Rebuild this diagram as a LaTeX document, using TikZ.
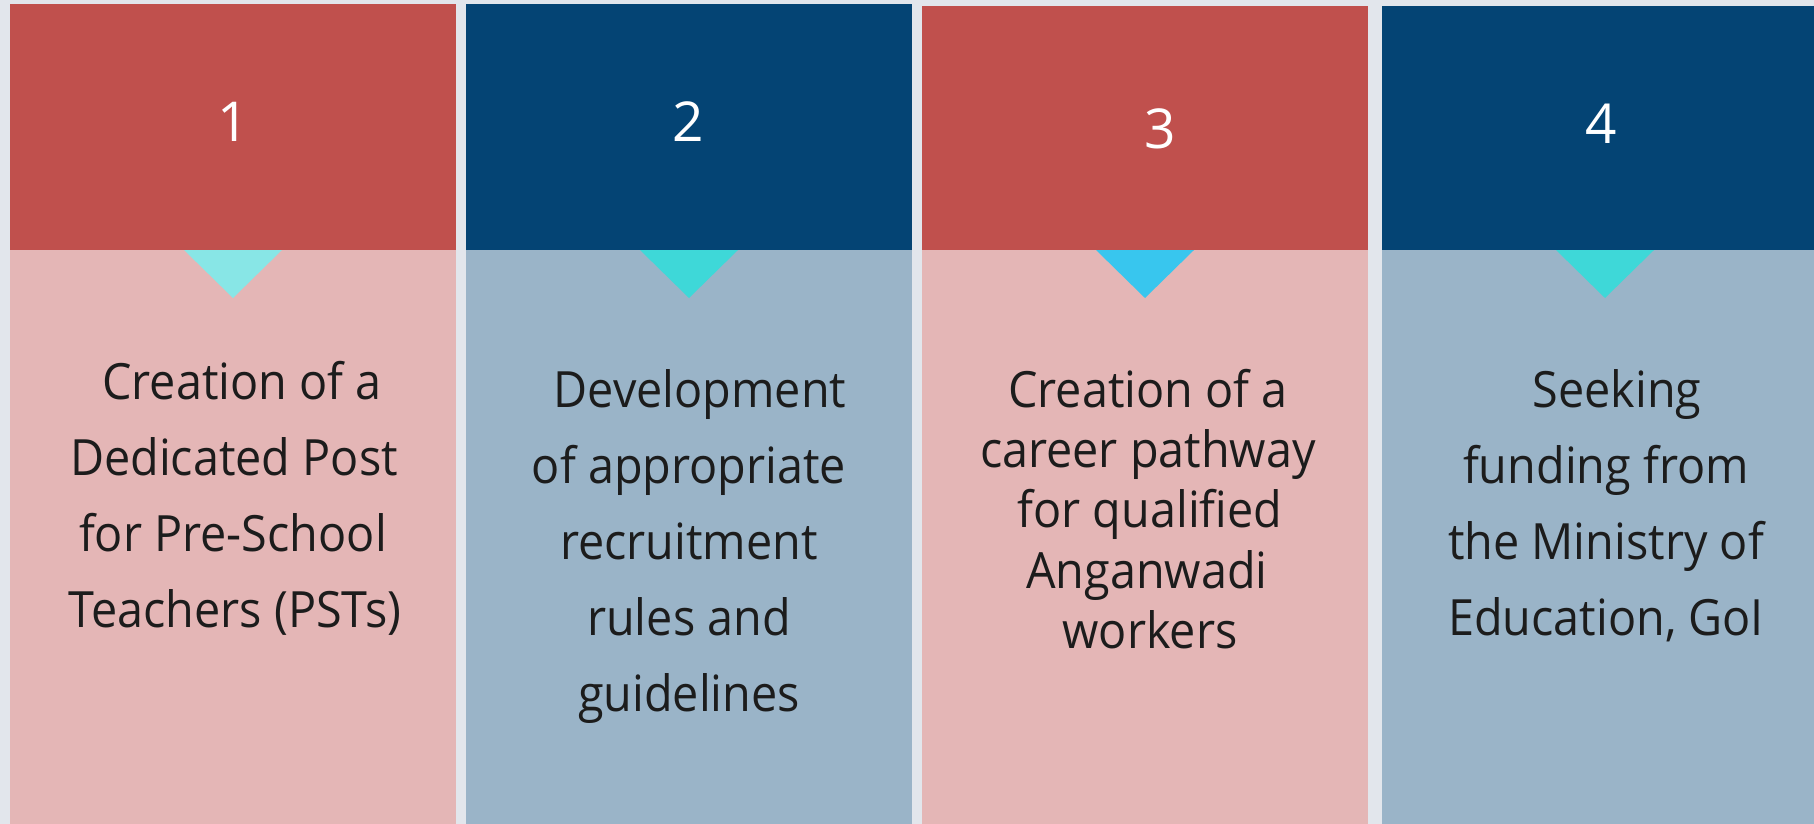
\documentclass[tikz,border=0pt]{standalone}
\usepackage{fontspec}
\setmainfont{Open Sans}
\newfontfamily\bodyfont{Open Sans}[FakeStretch=0.935]
\definecolor{bgc}{HTML}{E2E6EC}
\definecolor{redh}{HTML}{C0504D}
\definecolor{blueh}{HTML}{044474}
\definecolor{pinkb}{HTML}{E4B6B6}
\definecolor{blueb}{HTML}{9AB4C8}
\definecolor{triA}{HTML}{88E6E6}
\definecolor{triB}{HTML}{3ED8D8}
\definecolor{triC}{HTML}{38C6EE}
\definecolor{txt}{HTML}{1C1C1C}
\tikzset{
  numlbl/.style={anchor=base, inner sep=0pt, text=white, font=\fontsize{55}{60}\selectfont},
  bodylbl/.style={anchor=base, inner sep=0pt, text=txt, font=\bodyfont\fontsize{50}{60}\selectfont},
}
\begin{document}
\begin{tikzpicture}[x=1pt,y=-1pt]
\useasboundingbox (0,0) rectangle (1814,824);
\fill[bgc] (0,0) rectangle (1814,824);
% column 1
\fill[pinkb] (10,250) rectangle (456,824);
\fill[redh] (10,4) rectangle (456,250);
\fill[triA] (184,250) -- (282,250) -- (233,298) -- cycle;
% column 2
\fill[blueb] (466,250) rectangle (912,824);
\fill[blueh] (466,4) rectangle (912,250);
\fill[triB] (640,250) -- (738,250) -- (689,298) -- cycle;
% column 3
\fill[pinkb] (922,250) rectangle (1368,824);
\fill[redh] (922,6) rectangle (1368,250);
\fill[triC] (1096,250) -- (1194,250) -- (1145,298) -- cycle;
% column 4
\fill[blueb] (1382,250) rectangle (1814,824);
\fill[blueh] (1382,6) rectangle (1814,250);
\fill[triB] (1556,250) -- (1654,250) -- (1605,298) -- cycle;
% numbers
\node[numlbl] (n1) at (233,142) {1};
\node[numlbl] (n2) at (688,142) {2};
\node[numlbl] (n3) at (1160,149) {3};
\node[numlbl] (n4) at (1601,143) {4};
% column 1 text
\node[bodylbl] (a1) at (242,399) {Creation of a};
\node[bodylbl] (a2) at (234,475) {Dedicated Post};
\node[bodylbl] (a3) at (233,551) {for Pre-School};
\node[bodylbl] (a4) at (235,627) {Teachers (PSTs)};
% column 2 text
\node[bodylbl] (b1) at (700,407) {Development};
\node[bodylbl] (b2) at (689,483) {of appropriate};
\node[bodylbl] (b3) at (689,559) {recruitment};
\node[bodylbl] (b4) at (689,635) {rules and};
\node[bodylbl] (b5) at (689,711) {guidelines};
% column 3 text
\node[bodylbl] (c1) at (1148,407) {Creation of a};
\node[bodylbl] (c2) at (1148,467) {career pathway};
\node[bodylbl] (c3) at (1150,527) {for qualified};
\node[bodylbl] (c4) at (1147,588) {Anganwadi};
\node[bodylbl] (c5) at (1150,648) {workers};
% column 4 text
\node[bodylbl] (d1) at (1617,407) {Seeking};
\node[bodylbl] (d2) at (1606,483) {funding from};
\node[bodylbl] (d3) at (1606,559) {the Ministry of};
\node[bodylbl] (d4) at (1606,635) {Education, GoI};
\end{tikzpicture}
\end{document}
